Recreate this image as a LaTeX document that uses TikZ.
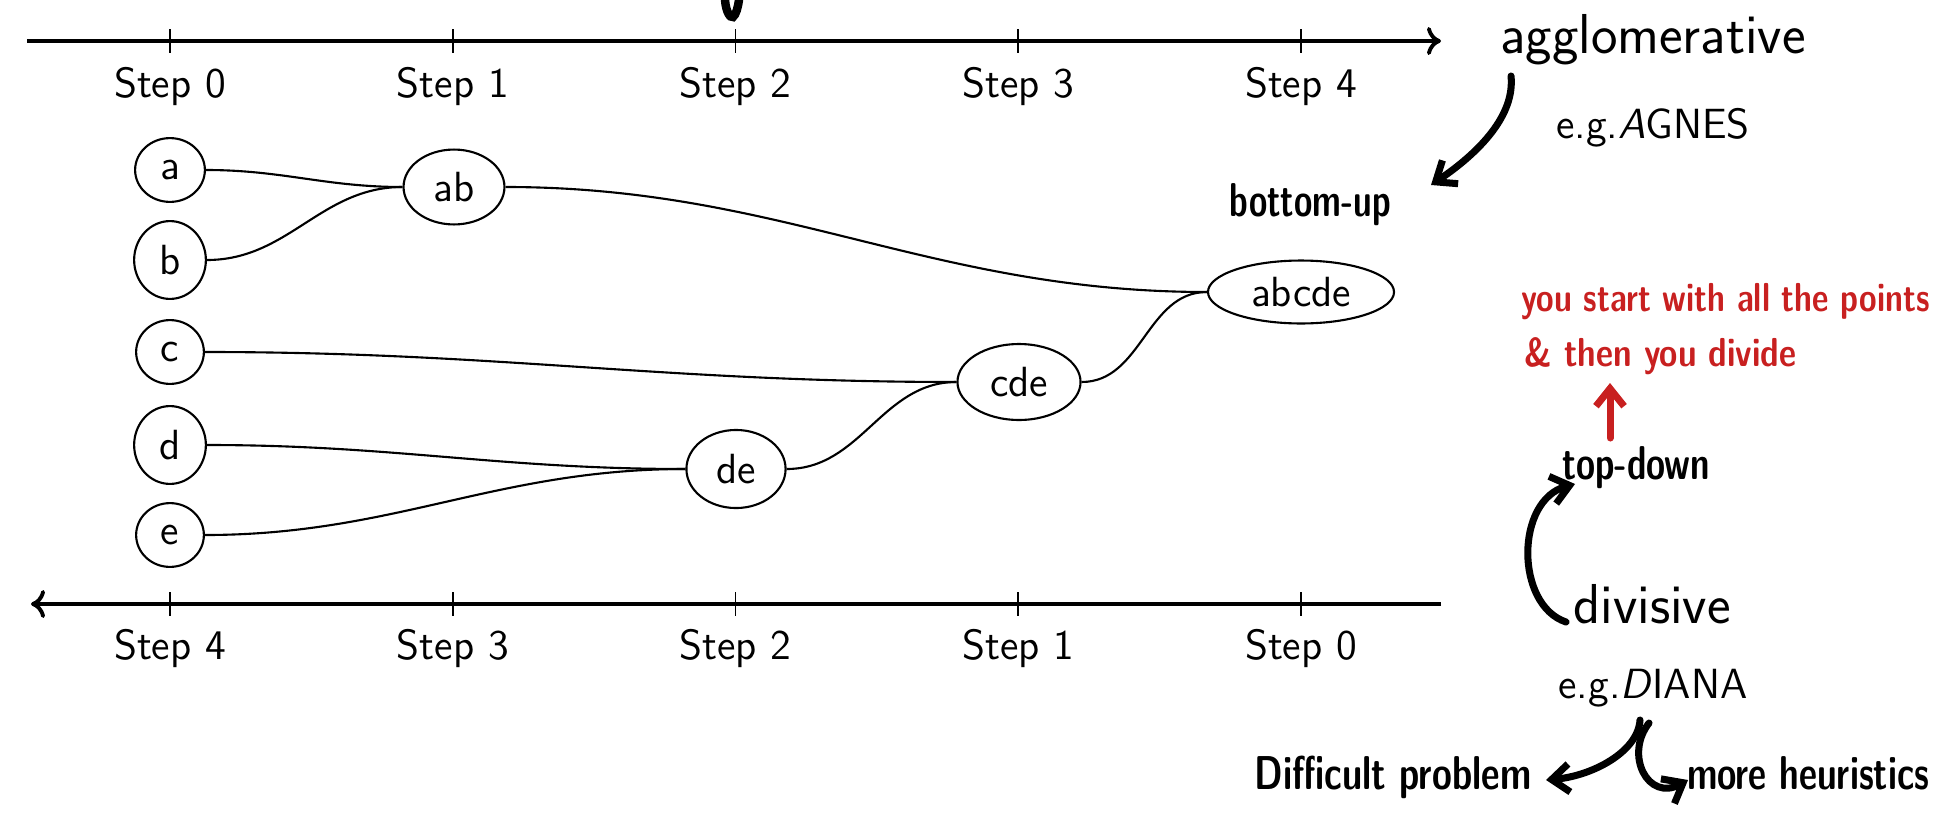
\documentclass[tikz,border=0pt]{standalone}
\usepackage{graphicx}
\usetikzlibrary{shapes.geometric,arrows.meta}
\definecolor{hwred}{RGB}{200,32,32}
\begin{document}
\begin{tikzpicture}[x=0.01cm,y=-0.01cm,
  axisline/.style={line width=1.1pt},
  tickline/.style={line width=0.5pt},
  steplbl/.style={font=\fontsize{12}{14}\sffamily, anchor=base, inner sep=0pt},
  leaf/.style={ellipse, draw, line width=0.6pt, inner xsep=4.2pt, inner ysep=3.6pt, font=\fontsize{12}{14}\sffamily},
  clus/.style={ellipse, draw, line width=0.6pt, inner sep=0pt, font=\fontsize{12}{14}\sffamily},
  link/.style={line width=0.6pt, out=0, in=180},
  bigtxt/.style={font=\fontsize{16}{18}\sffamily, anchor=base, inner sep=0pt},
  midtxt/.style={font=\fontsize{12}{14}\sffamily, anchor=base, inner sep=0pt},
  hand/.style={line width=2pt, line cap=round},
  handtip/.style={-{Straight Barb[length=5pt,width=8pt,line width=2pt]}},
  handtxt/.style={font=\fontsize{13.5}{14}\bfseries\sffamily, anchor=base, inner sep=0pt},
  redtxt/.style={font=\fontsize{11.5}{16}\bfseries\sffamily, text=hwred, anchor=base west, inner sep=0pt}
]
\useasboundingbox (0,0) rectangle (1934,824);

% axes
\coordinate (ta) at (27,41);
\coordinate (tb) at (1441,41);
\coordinate (ba) at (31,604);
\coordinate (bb) at (1441,604);
\draw[axisline,-{To[length=4pt,width=8pt]}] (ta) -- (tb);
\draw[axisline,-{To[length=4pt,width=8pt]}] (bb) -- (ba);
\foreach \i in {0,...,4}{
  \pgfmathsetmacro{\xx}{170+282.75*\i}
  \pgfmathtruncatemacro{\j}{4-\i}
  \draw[tickline] (\xx,29) -- (\xx,53);
  \node[steplbl] (ts\i) at (\xx,97) {Step \i};
  \draw[tickline] (\xx,592) -- (\xx,616);
  \node[steplbl] (bs\i) at (\xx,659) {Step \j};
}

% leaves
\node[leaf] (a) at (170,170) {a};
\node[leaf] (b) at (170,260) {b};
\node[leaf] (c) at (170,352) {c};
\node[leaf] (d) at (170,445) {d};
\node[leaf] (e) at (170,535) {e};
% clusters
\node[clus, minimum width=28.7pt, minimum height=21.3pt] (ab) at (454,187) {ab};
\node[clus, minimum width=28.2pt, minimum height=22.2pt] (de) at (736,469) {de};
\node[clus, minimum width=35pt, minimum height=21.6pt] (cde) at (1019,382) {cde};
\node[clus, minimum width=52.9pt, minimum height=17.9pt] (abcde) at (1301,292) {abcde};

\draw[link] (a.east) to (ab.west);
\draw[link] (b.east) to (ab.west);
\draw[link] (d.east) to (de.west);
\draw[link] (e.east) to (de.west);
\draw[link] (c.east) to (cde.west);
\draw[link] (de.east) to (cde.west);
\draw[link] (ab.east) to (abcde.west);
\draw[link] (cde.east) to (abcde.west);

% printed labels
\node[bigtxt] (agg) at (1653,53) {agglomerative};
\node[midtxt] (agnes) at (1653,138) {e.g.\textsl{A}GNES};
\node[bigtxt] (div) at (1652,623) {divisive};
\node[midtxt] (diana) at (1653,698) {e.g.\textsl{D}IANA};

% handwritten notes
\node[handtxt] (bu) at (1310,216) {\scalebox{0.7}[1]{bottom-up}};
\node[handtxt] (td) at (1636,479) {\scalebox{0.73}[1]{top-down}};
\node[redtxt] (r1) at (1521,311) {\scalebox{0.79}[1]{you start with all the points}};
\node[redtxt] (r2) at (1524,366) {\scalebox{0.82}[1]{\& then you divide}};
\node[handtxt] (dp) at (1393,789) {\scalebox{0.76}[1]{Difficult problem}};
\node[handtxt] (mh) at (1808,789) {\scalebox{0.74}[1]{more heuristics}};

\coordinate (s1) at (1511,76);
\coordinate (e1) at (1431,185);
\draw[hand,handtip] (s1) .. controls (1515,115) and (1480,152) .. (e1);
\coordinate (s2) at (1610,438);
\coordinate (e2) at (1610,383);
\draw[hand,handtip,hwred] (s2) -- (e2);
\coordinate (s3) at (1566,622);
\coordinate (e3) at (1575,484);
\draw[hand,handtip] (s3) .. controls (1515,605) and (1515,500) .. (e3);
\coordinate (s4) at (1640,720);
\coordinate (e4) at (1546,780);
\draw[hand,handtip] (s4) .. controls (1638,752) and (1592,776) .. (e4);
\coordinate (s5) at (1649,723);
\coordinate (e5) at (1688,780);
\draw[hand,handtip] (s5) .. controls (1624,755) and (1648,802) .. (e5);
% cut-off stroke at top
\draw[hand,line width=2.4pt] (725,0) .. controls (726,12) and (730,18) .. (733,17) .. controls (736,15) and (738,7) .. (739,0);
\end{tikzpicture}
\end{document}
